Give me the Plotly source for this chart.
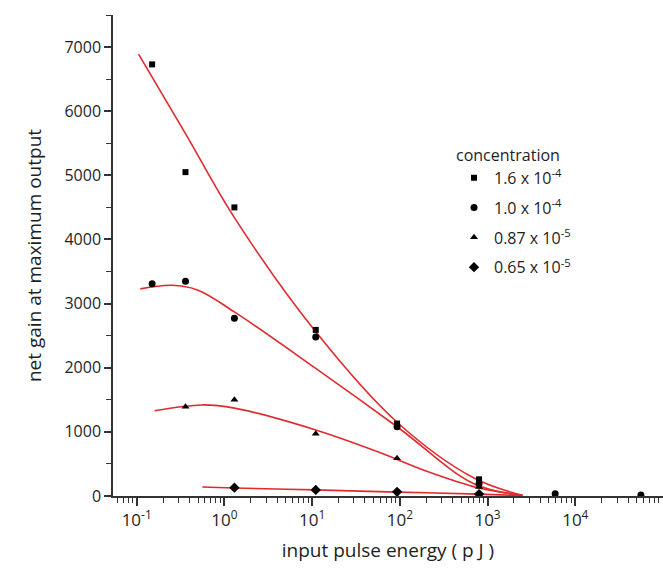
import plotly.graph_objects as go

# ---- data ----
sq_x = [0.15, 0.36, 1.3, 11, 93, 800]
sq_y = [6730, 5050, 4500, 2590, 1130, 260]

ci_x = [0.15, 0.36, 1.3, 11, 93, 800, 5900, 56000]
ci_y = [3310, 3350, 2770, 2480, 1080, 190, 35, 15]

tr_x = [0.36, 1.3, 11, 93, 800]
tr_y = [1390, 1500, 970, 590, 140]

di_x = [1.3, 11, 93, 800]
di_y = [130, 95, 65, 30]

# fitted curves
fit1_x = [0.105, 0.36, 1.3, 11, 93, 700, 2500]
fit1_y = [6890, 5650, 4340, 2560, 1150, 280, 10]

fit2_x = [0.11, 0.25, 0.5, 1.3, 11, 93, 700, 2500]
fit2_y = [3230, 3285, 3210, 2870, 1990, 1080, 190, 10]

fit3_x = [0.16, 0.56, 1.3, 11, 57, 214, 800, 2500]
fit3_y = [1330, 1420, 1370, 1030, 686, 375, 125, 10]

fit4_x = [0.56, 1.3, 11, 93, 800, 2500]
fit4_y = [140, 125, 95, 60, 30, 5]

labels = ["1.6 x 10<sup>-4</sup>", "1.0 x 10<sup>-4</sup>",
          "0.87 x 10<sup>-5</sup>", "0.65 x 10<sup>-5</sup>"]

x_tickvals = [0.1, 1, 10, 100, 1000, 10000]
x_ticktext = ["10<sup>-1</sup>", "10<sup>0</sup>", "10<sup>1</sup>",
              "10<sup>2</sup>", "10<sup>3</sup>", "10<sup>4</sup>"]
x_minorvals = [m * d for d in [0.01, 0.1, 1, 10, 100, 1000, 10000] for m in range(2, 10)]

RED = "#e02a2e"
FONT = "Open Sans"
INK = "#1e1e1e"

fig = go.Figure()
for fx, fy in [(fit1_x, fit1_y), (fit2_x, fit2_y), (fit3_x, fit3_y), (fit4_x, fit4_y)]:
    fig.add_trace(go.Scatter(x=fx, y=fy, mode="lines", showlegend=False,
                             line=dict(color=RED, width=1.6, shape="spline", smoothing=1.0),
                             hoverinfo="skip"))

for i, (xs, ys, sym, sz, lab) in enumerate([(sq_x, sq_y, "square", 6, labels[0]),
                                            (ci_x, ci_y, "circle", 7, labels[1]),
                                            (tr_x, tr_y, "triangle-up", 7, labels[2]),
                                            (di_x, di_y, "diamond", 8, labels[3])]):
    fig.add_trace(go.Scatter(x=xs, y=ys, mode="markers", name=lab, legendgroup=f"g{i}",
                             marker=dict(symbol=sym, size=sz, color="black")))

fig.update_layout(
    width=663, height=575,
    margin=dict(l=113, r=0, t=15, b=79),
    paper_bgcolor="white", plot_bgcolor="white",
    font=dict(family=FONT, color=INK, size=15),
    legend=dict(
        title=dict(text="concentration", font=dict(size=16, family=FONT, color=INK)),
        x=0.62, y=0.74, xanchor="left", yanchor="top",
        font=dict(size=16, family=FONT, color=INK),
        bgcolor="rgba(0,0,0,0)", tracegroupgap=6,
    ),
    xaxis=dict(
        type="log", range=[-1.27, 5.0],
        showgrid=False, zeroline=False,
        showline=True, linecolor="#333", linewidth=1.5,
        tickmode="array", tickvals=x_tickvals, ticktext=x_ticktext,
        ticks="outside", ticklen=8, tickwidth=1.5, tickcolor="#333",
        tickfont=dict(size=17, family=FONT, color=INK),
        minor=dict(tickmode="array", tickvals=x_minorvals, ticks="outside",
                   ticklen=5, tickwidth=1.2, tickcolor="#333", showgrid=False),
        title=dict(text="input pulse energy ( p J )", font=dict(size=19, family=FONT, color=INK), standoff=14),
    ),
    yaxis=dict(
        range=[0, 7500], dtick=1000,
        showgrid=False, zeroline=False,
        showline=True, linecolor="#333", linewidth=1.5,
        ticks="outside", ticklen=7, tickwidth=1.5, tickcolor="#333",
        tickfont=dict(size=16, family=FONT, color=INK),
        minor=dict(dtick=500, ticks="outside", ticklen=5, tickwidth=1.2, tickcolor="#333", showgrid=False),
        title=dict(text="net gain at maximum output", font=dict(size=19, family=FONT, color=INK), standoff=18),
    ),
)

fig.write_html("out.html")
